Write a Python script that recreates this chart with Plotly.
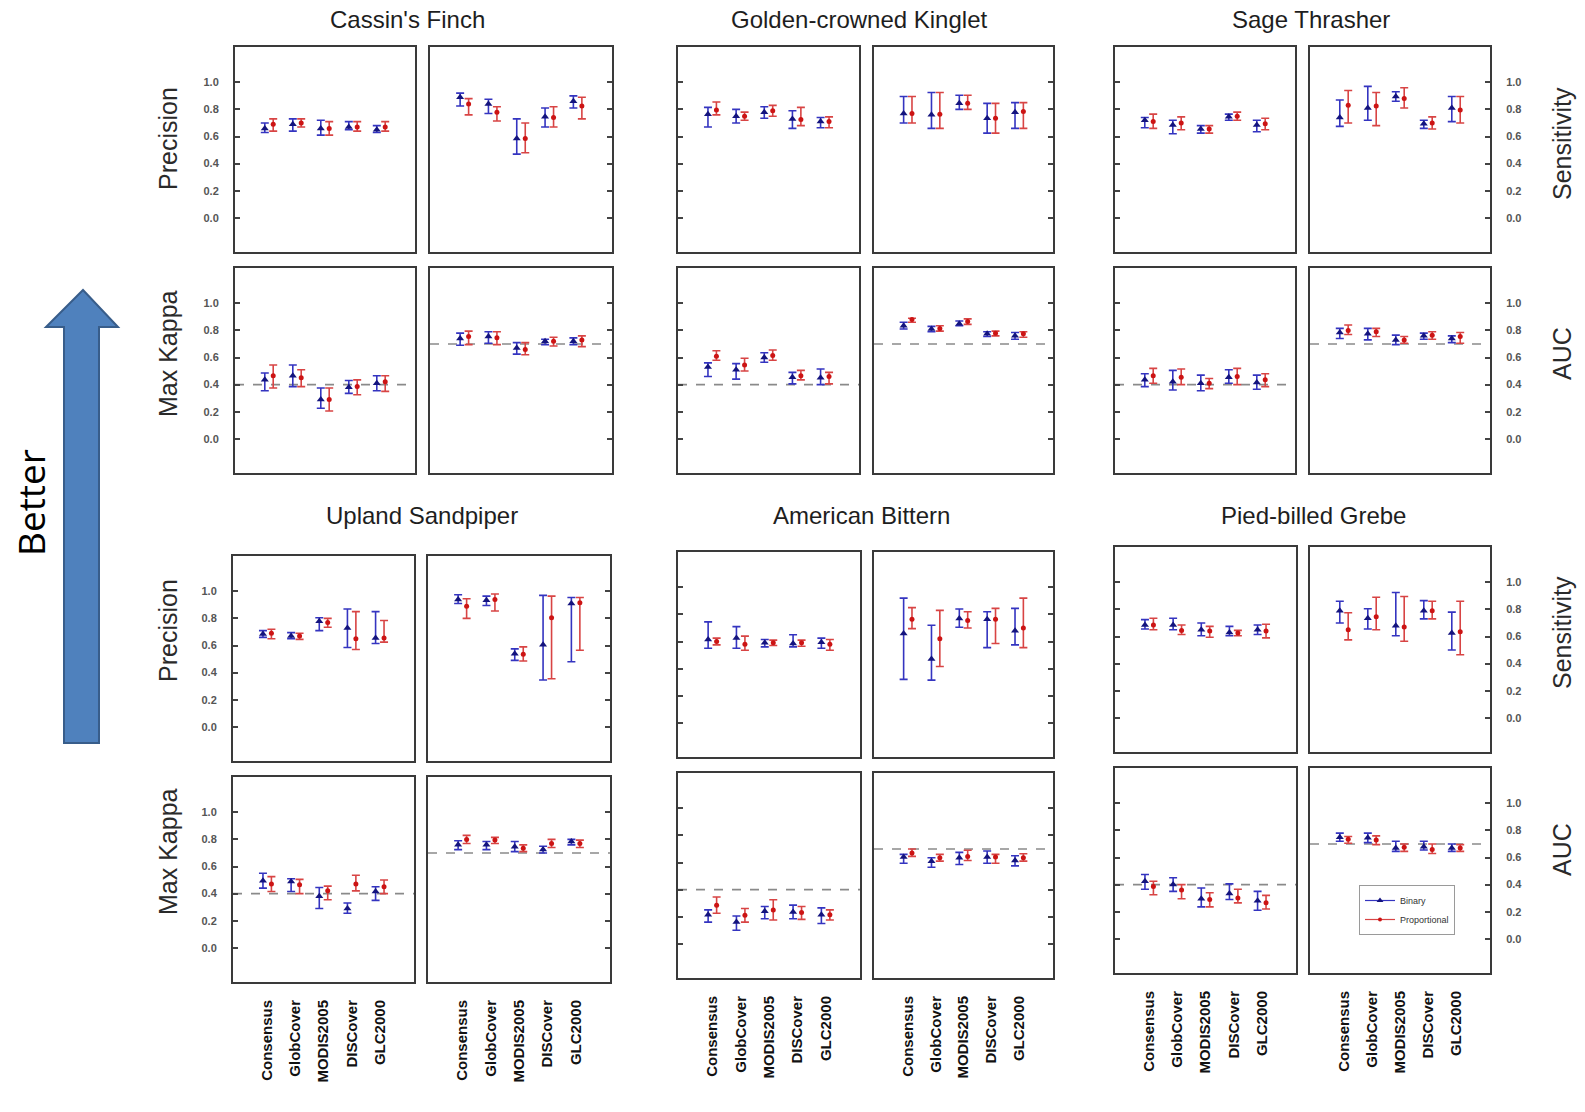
import plotly.graph_objects as go

W, H = 1585, 1112

land_covers = ["Consensus", "GlobCover", "MODIS2005", "DISCover", "GLC2000"]
species = ["Cassin's Finch", "Golden-crowned Kinglet", "Sage Thrasher",
           "Upland Sandpiper", "American Bittern", "Pied-billed Grebe"]
metrics = ["Precision", "Sensitivity", "Max Kappa", "AUC"]
y_ticks = [0.0, 0.2, 0.4, 0.6, 0.8, 1.0]
kappa_reference = 0.4
auc_reference = 0.7

# Each entry: (estimate, lower bound, upper bound) for one land-cover product
cf_precision_bin = [(0.66, 0.63, 0.70), (0.69, 0.64, 0.73), (0.66, 0.61, 0.72), (0.67, 0.65, 0.71), (0.65, 0.63, 0.68)]
cf_precision_prop = [(0.69, 0.64, 0.73), (0.70, 0.67, 0.73), (0.66, 0.61, 0.71), (0.67, 0.64, 0.71), (0.67, 0.64, 0.71)]
cf_sensitivity_bin = [(0.89, 0.825, 0.92), (0.84, 0.77, 0.875), (0.585, 0.47, 0.73), (0.745, 0.67, 0.81), (0.86, 0.81, 0.90)]
cf_sensitivity_prop = [(0.84, 0.76, 0.88), (0.78, 0.715, 0.82), (0.585, 0.48, 0.70), (0.74, 0.67, 0.82), (0.825, 0.73, 0.89)]
cf_kappa_bin = [(0.435, 0.355, 0.485), (0.465, 0.385, 0.545), (0.29, 0.225, 0.375), (0.38, 0.335, 0.43), (0.41, 0.355, 0.465)]
cf_kappa_prop = [(0.465, 0.375, 0.545), (0.45, 0.385, 0.51), (0.29, 0.205, 0.375), (0.385, 0.325, 0.435), (0.42, 0.35, 0.465)]
cf_auc_bin = [(0.74, 0.69, 0.78), (0.755, 0.705, 0.79), (0.67, 0.625, 0.71), (0.72, 0.695, 0.735), (0.72, 0.695, 0.745)]
cf_auc_prop = [(0.755, 0.695, 0.795), (0.745, 0.695, 0.79), (0.66, 0.62, 0.71), (0.72, 0.685, 0.75), (0.73, 0.68, 0.76)]

gk_precision_bin = [(0.765, 0.67, 0.815), (0.75, 0.70, 0.80), (0.78, 0.735, 0.82), (0.73, 0.66, 0.79), (0.71, 0.665, 0.74)]
gk_precision_prop = [(0.795, 0.76, 0.855), (0.75, 0.72, 0.78), (0.79, 0.75, 0.83), (0.725, 0.68, 0.815), (0.71, 0.665, 0.745)]
gk_sensitivity_bin = [(0.77, 0.70, 0.895), (0.76, 0.66, 0.925), (0.845, 0.80, 0.905), (0.735, 0.625, 0.845), (0.78, 0.66, 0.85)]
gk_sensitivity_prop = [(0.77, 0.70, 0.895), (0.765, 0.66, 0.925), (0.845, 0.80, 0.905), (0.735, 0.625, 0.845), (0.785, 0.66, 0.85)]
gk_kappa_bin = [(0.53, 0.46, 0.56), (0.51, 0.44, 0.555), (0.60, 0.565, 0.635), (0.455, 0.405, 0.49), (0.45, 0.40, 0.515)]
gk_kappa_prop = [(0.61, 0.58, 0.65), (0.545, 0.50, 0.595), (0.615, 0.58, 0.655), (0.465, 0.435, 0.505), (0.46, 0.405, 0.49)]
gk_auc_bin = [(0.835, 0.81, 0.86), (0.81, 0.79, 0.83), (0.85, 0.835, 0.87), (0.775, 0.755, 0.79), (0.76, 0.735, 0.785)]
gk_auc_prop = [(0.88, 0.86, 0.89), (0.815, 0.795, 0.835), (0.865, 0.845, 0.885), (0.78, 0.76, 0.795), (0.775, 0.75, 0.79)]

st_precision_bin = [(0.72, 0.665, 0.74), (0.685, 0.62, 0.72), (0.655, 0.625, 0.68), (0.745, 0.72, 0.765), (0.685, 0.635, 0.72)]
st_precision_prop = [(0.71, 0.66, 0.765), (0.70, 0.65, 0.745), (0.655, 0.625, 0.68), (0.75, 0.72, 0.78), (0.695, 0.65, 0.735)]
st_sensitivity_bin = [(0.74, 0.675, 0.87), (0.81, 0.72, 0.97), (0.895, 0.86, 0.93), (0.695, 0.66, 0.72), (0.81, 0.71, 0.895)]
st_sensitivity_prop = [(0.83, 0.70, 0.94), (0.825, 0.68, 0.925), (0.88, 0.81, 0.96), (0.70, 0.655, 0.745), (0.795, 0.70, 0.895)]
st_kappa_bin = [(0.435, 0.385, 0.48), (0.42, 0.36, 0.505), (0.41, 0.355, 0.47), (0.455, 0.41, 0.51), (0.415, 0.365, 0.47)]
st_kappa_prop = [(0.465, 0.41, 0.52), (0.455, 0.40, 0.515), (0.41, 0.37, 0.445), (0.46, 0.40, 0.52), (0.435, 0.385, 0.48)]
st_auc_bin = [(0.785, 0.74, 0.815), (0.775, 0.73, 0.815), (0.73, 0.695, 0.765), (0.76, 0.735, 0.78), (0.74, 0.71, 0.76)]
st_auc_prop = [(0.80, 0.77, 0.84), (0.79, 0.755, 0.815), (0.73, 0.705, 0.755), (0.765, 0.735, 0.79), (0.755, 0.705, 0.785)]

us_precision_bin = [(0.685, 0.66, 0.71), (0.67, 0.65, 0.695), (0.78, 0.71, 0.805), (0.73, 0.585, 0.87), (0.655, 0.615, 0.85)]
us_precision_prop = [(0.69, 0.65, 0.72), (0.67, 0.645, 0.69), (0.77, 0.735, 0.80), (0.65, 0.57, 0.85), (0.655, 0.625, 0.785)]
us_sensitivity_bin = [(0.94, 0.91, 0.975), (0.935, 0.895, 0.965), (0.54, 0.49, 0.575), (0.605, 0.345, 0.97), (0.91, 0.48, 0.955)]
us_sensitivity_prop = [(0.89, 0.80, 0.945), (0.94, 0.855, 0.98), (0.535, 0.485, 0.59), (0.805, 0.355, 0.965), (0.915, 0.565, 0.955)]
us_kappa_bin = [(0.495, 0.44, 0.55), (0.49, 0.415, 0.51), (0.38, 0.29, 0.445), (0.29, 0.255, 0.33), (0.415, 0.35, 0.45)]
us_kappa_prop = [(0.47, 0.415, 0.525), (0.465, 0.40, 0.505), (0.42, 0.355, 0.455), (0.47, 0.42, 0.535), (0.45, 0.40, 0.50)]
us_auc_bin = [(0.76, 0.725, 0.79), (0.76, 0.725, 0.785), (0.745, 0.71, 0.785), (0.725, 0.70, 0.75), (0.785, 0.76, 0.80)]
us_auc_prop = [(0.80, 0.77, 0.83), (0.795, 0.77, 0.815), (0.735, 0.71, 0.76), (0.77, 0.74, 0.80), (0.77, 0.74, 0.795)]

ab_precision_bin = [(0.615, 0.55, 0.745), (0.625, 0.55, 0.71), (0.59, 0.56, 0.615), (0.585, 0.56, 0.65), (0.595, 0.55, 0.625)]
ab_precision_prop = [(0.60, 0.575, 0.625), (0.58, 0.535, 0.64), (0.59, 0.57, 0.61), (0.59, 0.565, 0.61), (0.58, 0.535, 0.615)]
ab_sensitivity_bin = [(0.66, 0.32, 0.92), (0.47, 0.315, 0.72), (0.77, 0.705, 0.84), (0.765, 0.555, 0.82), (0.68, 0.575, 0.845)]
ab_sensitivity_prop = [(0.765, 0.695, 0.85), (0.62, 0.415, 0.83), (0.755, 0.70, 0.82), (0.765, 0.585, 0.845), (0.70, 0.555, 0.92)]
ab_kappa_bin = [(0.215, 0.16, 0.25), (0.16, 0.10, 0.205), (0.24, 0.185, 0.275), (0.235, 0.185, 0.285), (0.215, 0.15, 0.265)]
ab_kappa_prop = [(0.285, 0.225, 0.345), (0.21, 0.16, 0.26), (0.25, 0.175, 0.325), (0.23, 0.18, 0.275), (0.215, 0.175, 0.25)]
ab_auc_bin = [(0.64, 0.595, 0.66), (0.61, 0.565, 0.635), (0.635, 0.585, 0.675), (0.64, 0.595, 0.685), (0.615, 0.575, 0.65)]
ab_auc_prop = [(0.67, 0.645, 0.70), (0.635, 0.61, 0.66), (0.645, 0.615, 0.69), (0.64, 0.595, 0.66), (0.635, 0.61, 0.665)]

pg_precision_bin = [(0.685, 0.655, 0.725), (0.685, 0.65, 0.735), (0.65, 0.605, 0.70), (0.63, 0.605, 0.675), (0.65, 0.615, 0.685)]
pg_precision_prop = [(0.685, 0.65, 0.735), (0.645, 0.615, 0.685), (0.64, 0.595, 0.675), (0.625, 0.605, 0.645), (0.64, 0.59, 0.69)]
pg_sensitivity_bin = [(0.79, 0.70, 0.86), (0.735, 0.655, 0.805), (0.68, 0.605, 0.925), (0.79, 0.73, 0.865), (0.625, 0.50, 0.78)]
pg_sensitivity_prop = [(0.65, 0.575, 0.775), (0.745, 0.65, 0.89), (0.67, 0.565, 0.895), (0.79, 0.73, 0.86), (0.635, 0.465, 0.86)]
pg_kappa_bin = [(0.425, 0.365, 0.475), (0.40, 0.35, 0.45), (0.295, 0.235, 0.375), (0.335, 0.29, 0.405), (0.28, 0.21, 0.35)]
pg_kappa_prop = [(0.385, 0.325, 0.425), (0.36, 0.295, 0.40), (0.29, 0.235, 0.34), (0.30, 0.265, 0.365), (0.265, 0.22, 0.32)]
pg_auc_bin = [(0.75, 0.72, 0.78), (0.745, 0.71, 0.78), (0.67, 0.645, 0.72), (0.68, 0.655, 0.72), (0.67, 0.645, 0.70)]
pg_auc_prop = [(0.735, 0.705, 0.755), (0.73, 0.695, 0.76), (0.675, 0.645, 0.70), (0.66, 0.63, 0.70), (0.67, 0.645, 0.695)]

results = {
    "Cassin's Finch": [(cf_precision_bin, cf_precision_prop), (cf_sensitivity_bin, cf_sensitivity_prop),
                       (cf_kappa_bin, cf_kappa_prop), (cf_auc_bin, cf_auc_prop)],
    "Golden-crowned Kinglet": [(gk_precision_bin, gk_precision_prop), (gk_sensitivity_bin, gk_sensitivity_prop),
                               (gk_kappa_bin, gk_kappa_prop), (gk_auc_bin, gk_auc_prop)],
    "Sage Thrasher": [(st_precision_bin, st_precision_prop), (st_sensitivity_bin, st_sensitivity_prop),
                      (st_kappa_bin, st_kappa_prop), (st_auc_bin, st_auc_prop)],
    "Upland Sandpiper": [(us_precision_bin, us_precision_prop), (us_sensitivity_bin, us_sensitivity_prop),
                         (us_kappa_bin, us_kappa_prop), (us_auc_bin, us_auc_prop)],
    "American Bittern": [(ab_precision_bin, ab_precision_prop), (ab_sensitivity_bin, ab_sensitivity_prop),
                         (ab_kappa_bin, ab_kappa_prop), (ab_auc_bin, ab_auc_prop)],
    "Pied-billed Grebe": [(pg_precision_bin, pg_precision_prop), (pg_sensitivity_bin, pg_sensitivity_prop),
                          (pg_kappa_bin, pg_kappa_prop), (pg_auc_bin, pg_auc_prop)],
}

# Pixel boxes of the 2x2 panel block for every species: x spans of left/right column, y spans of top/bottom row
boxes = {
    "Cassin's Finch": (((235, 415), (430, 612)), ((47, 252), (268, 473))),
    "Golden-crowned Kinglet": (((678, 859), (874, 1053)), ((47, 252), (268, 473))),
    "Sage Thrasher": (((1115, 1295), (1310, 1490)), ((47, 252), (268, 473))),
    "Upland Sandpiper": (((233, 414), (428, 610)), ((556, 761), (777, 982))),
    "American Bittern": (((678, 860), (874, 1053)), ((552, 757), (773, 978))),
    "Pied-billed Grebe": (((1115, 1296), (1310, 1490)), ((547, 752), (768, 973))),
}
title_pos = {
    "Cassin's Finch": (408, 19), "Golden-crowned Kinglet": (859, 19), "Sage Thrasher": (1311, 19),
    "Upland Sandpiper": (422, 515), "American Bittern": (861, 515), "Pied-billed Grebe": (1313, 515),
}

FONT = "Liberation Sans, Arial, sans-serif"
FRAME = "#3a3a3a"
BLUE_MK, BLUE_ERR = "#14147e", "#3434c0"
RED_MK, RED_ERR = "#cc1414", "#d84444"
X_RANGE = [-0.214, 6.214]
Y_RANGE = [-0.253, 1.261]
OFFSET = 0.15


def px(x):
    return x / W


def py(y):
    return 1 - y / H


fig = go.Figure()
layout = {}
shapes = []
xs = list(range(1, len(land_covers) + 1))

for s_idx, name in enumerate(species):
    (xcols, yrows) = boxes[name]
    group_col = s_idx % 3
    bottom_block = s_idx >= 3
    for m_idx, metric in enumerate(metrics):
        k = s_idx * 4 + m_idx + 1
        col, row = m_idx % 2, m_idx // 2
        (x0, x1), (y0, y1) = xcols[col], yrows[row]
        xa, ya = ("x" if k == 1 else f"x{k}"), ("y" if k == 1 else f"y{k}")
        show_x = bottom_block and row == 1
        show_y = (col == 0 and group_col == 0) or (col == 1 and group_col == 2)
        layout[f"xaxis{k}"] = dict(
            domain=[px(x0), px(x1)], range=X_RANGE, anchor=ya,
            showline=True, mirror=True, linecolor=FRAME, linewidth=2,
            showgrid=False, zeroline=False, ticks="",
            tickvals=xs, ticktext=land_covers, showticklabels=show_x,
            tickangle=-90, ticklabelstandoff=10,
            tickfont=dict(family=FONT, size=15, color="#111111", weight="bold"),
            fixedrange=True,
        )
        layout[f"yaxis{k}"] = dict(
            domain=[py(y1), py(y0)], range=Y_RANGE, anchor=xa,
            side="left" if col == 0 else "right",
            showline=True, mirror=True, linecolor=FRAME, linewidth=2,
            showgrid=False, zeroline=False,
            ticks="inside", ticklen=5, tickwidth=1.5, tickcolor="#444444",
            tickvals=y_ticks, ticktext=[f"{v:.1f}" for v in y_ticks],
            showticklabels=show_y, ticklabelstandoff=12,
            tickfont=dict(family=FONT, size=11, color="#555555", weight="bold"),
            fixedrange=True,
        )
        binary, proportional = results[name][m_idx]
        for series, shift, sym, size, mk, err in (
            (binary, -OFFSET, "triangle-up", 7, BLUE_MK, BLUE_ERR),
            (proportional, OFFSET, "circle", 5, RED_MK, RED_ERR),
        ):
            est = [v[0] for v in series]
            lo = [v[1] for v in series]
            hi = [v[2] for v in series]
            fig.add_trace(go.Scatter(
                x=[x + shift for x in xs], y=est, mode="markers",
                marker=dict(symbol=sym, size=size, color=mk),
                error_y=dict(type="data", symmetric=False,
                             array=[h - e for h, e in zip(hi, est)],
                             arrayminus=[e - l for e, l in zip(est, lo)],
                             color=err, thickness=1.6, width=4),
                xaxis=xa, yaxis=ya, showlegend=False, hoverinfo="skip",
            ))
        if metric in ("Max Kappa", "AUC"):
            level = kappa_reference if metric == "Max Kappa" else auc_reference
            shapes.append(dict(type="line", xref=f"{xa} domain", yref=ya,
                               x0=0, x1=1, y0=level, y1=level, layer="below",
                               line=dict(color="#8a8a8a", width=1.6, dash="dash")))

# Legend entries (drawn in the last AUC panel)
fig.add_trace(go.Scatter(x=[None], y=[None], mode="lines+markers", name="Binary",
                         marker=dict(symbol="triangle-up", size=6, color=BLUE_MK),
                         line=dict(color=BLUE_ERR, width=1.2)))
fig.add_trace(go.Scatter(x=[None], y=[None], mode="lines+markers", name="Proportional",
                         marker=dict(symbol="circle", size=4, color=RED_MK),
                         line=dict(color=RED_ERR, width=1.2)))

annotations = []
for name in species:
    tx, ty = title_pos[name]
    annotations.append(dict(text=name, x=px(tx), y=py(ty), xref="paper", yref="paper",
                            xanchor="center", yanchor="middle", showarrow=False,
                            font=dict(family=FONT, size=24, color="#1e1e1e")))

side_titles = [("Precision", 168, 139), ("Max Kappa", 168, 354),
               ("Precision", 168, 631), ("Max Kappa", 168, 852),
               ("Sensitivity", 1562, 144), ("AUC", 1562, 354),
               ("Sensitivity", 1562, 633), ("AUC", 1562, 850)]
for text, tx, ty in side_titles:
    annotations.append(dict(text=text, x=px(tx), y=py(ty), xref="paper", yref="paper",
                            xanchor="center", yanchor="middle",
                            showarrow=False, textangle=-90,
                            font=dict(family=FONT, size=25, color="#2a2a2a")))

annotations.append(dict(text="Better", x=px(31), y=py(503), xref="paper", yref="paper",
                        xanchor="center", yanchor="middle",
                        showarrow=False, textangle=-90,
                        font=dict(family="Open Sans, Liberation Sans, sans-serif", size=37, color="#000000")))

# Big upward arrow beside the "Better" label
arrow_pts = [(83, 290), (118, 327), (99, 327), (99, 743), (64, 743), (64, 327), (46, 327)]
path = "M " + " L ".join(f"{px(x):.5f},{py(y):.5f}" for x, y in arrow_pts) + " Z"
shapes.append(dict(type="path", xref="paper", yref="paper", path=path,
                   fillcolor="#4f81bd", line=dict(color="#385d8a", width=2)))

fig.update_layout(
    width=W, height=H, margin=dict(l=0, r=0, t=0, b=0),
    paper_bgcolor="white", plot_bgcolor="white",
    shapes=shapes, annotations=annotations,
    showlegend=True,
    legend=dict(x=px(1359), y=py(885), xanchor="left", yanchor="top",
                bgcolor="white", bordercolor="#9a9a9a", borderwidth=1,
                font=dict(family=FONT, size=9, color="#333333"),
                itemwidth=30, tracegroupgap=0),
    **layout,
)

fig.write_html("out.html")
